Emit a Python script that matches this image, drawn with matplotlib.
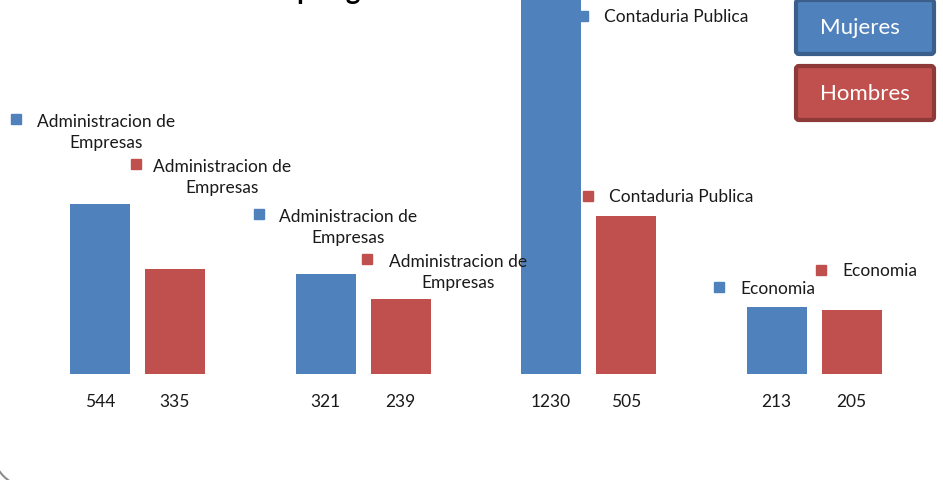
import matplotlib
matplotlib.use("Agg")
import matplotlib.pyplot as plt
from matplotlib.patches import Rectangle, FancyBboxPatch, Arc
from matplotlib.transforms import IdentityTransform

# ---- data ----
series_names = ["Mujeres", "Hombres"]
categories = ["Administracion de\nEmpresas", "Administracion de\nEmpresas",
              "Contaduria Publica", "Economia"]
mujeres = [544, 321, 1230, 213]
hombres = [335, 239, 505, 205]
title_text = "por género"

# ---- style ----
BLUE = "#4F81BD"
RED = "#C0504D"
FONT = ["Lato", "DejaVu Sans"]
W, H = 943, 481

fig = plt.figure(figsize=(W / 100, H / 100), dpi=100)
ax = fig.add_axes([0, 106 / H, 1, 375 / H])
ax.axis("off")
ax.set_xlim(-137.5 / 225.5, (W - 137.5) / 225.5)
ax.set_ylim(0, 1200)

bw = 60 / 225.5
off = 37.5 / 225.5
xs = list(range(len(categories)))
for vals, color, sgn in ((mujeres, BLUE, -1), (hombres, RED, 1)):
    bx = [x + sgn * off for x in xs]
    ax.bar(bx, vals, width=bw, color=color, zorder=3)
    for x, v in zip(bx, vals):
        ax.annotate(str(v), (x, 0), xytext=(0, -27), textcoords="offset pixels",
                    ha="center", va="center", fontsize=12.5, family=FONT,
                    color="#1a1a1a", annotation_clip=False)


def fx(px):
    return px / W


def fy(py):
    return 1 - py / H


# category labels with legend-key squares (pixel positions, top origin)
label_pos = [  # (square cx, square cy, text left)
    (16, 120, 37), (136, 165, 153),
    (259, 215, 279), (367, 260, 389),
    (583, 17, 604), (588, 197, 609),
    (719, 288, 740), (821, 271, 842),
]
label_texts = []
label_colors = []
for i in range(len(categories)):
    label_texts += [categories[i], categories[i]]
    label_colors += [BLUE, RED]
for (sx, sy, tx), txt, col in zip(label_pos, label_texts, label_colors):
    fig.add_artist(Rectangle((fx(sx - 5), fy(sy + 5)), 10 / W, 10 / H,
                             transform=fig.transFigure, color=col, zorder=1))
    nlines = txt.count("\n") + 1
    cy = sy + (nlines - 1) * 23.5 / 2
    fig.text(fx(tx), fy(cy + 0.5), txt, ha="left", va="center", multialignment="center",
             fontsize=12.5, family=FONT, color="#1a1a1a", linespacing=1.42, zorder=5)

# legend boxes
for name, face, edge, top, tcx in ((series_names[0], BLUE, "#3A5F8B", 1, 860),
                                   (series_names[1], RED, "#8E3A38", 67, 865)):
    box = FancyBboxPatch((796, H - (top + 54)), 138, 54,
                         boxstyle="round,pad=0,rounding_size=3",
                         transform=IdentityTransform(), facecolor=face,
                         edgecolor=edge, linewidth=3, zorder=6)
    fig.add_artist(box)
    fig.text(fx(tcx), fy(top + 27), name, ha="center", va="center", color="white",
             fontsize=16, family=FONT, zorder=7)

# partially visible title
fig.text(fx(297), fy(-1.0), title_text, ha="left", va="baseline", fontsize=20,
         fontweight="bold", family=FONT, color="black")

# chart area border corner (bottom-left rounded corner)
fig.add_artist(Arc((32, 32), 80, 80, theta1=180, theta2=270,
                   transform=IdentityTransform(), edgecolor="#8c8c8c",
                   linewidth=1.5))

fig.savefig("out.png", dpi=100)
